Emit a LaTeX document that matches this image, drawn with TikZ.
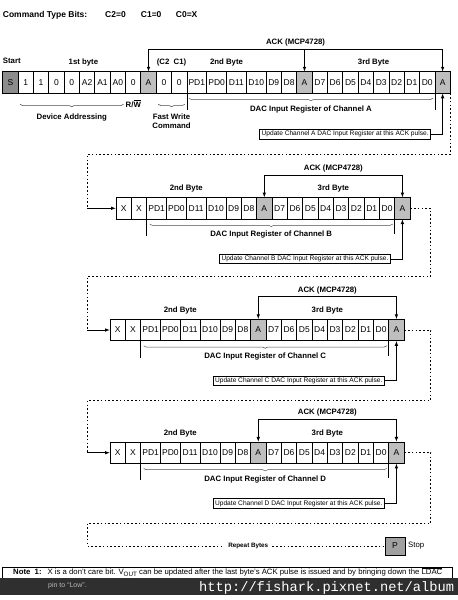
\documentclass[tikz,border=0pt]{standalone}
\usepackage{fontspec}
\setmainfont{Liberation Sans}
\newfontfamily\urlfont{Liberation Mono}
\usetikzlibrary{positioning,arrows.meta,decorations.pathreplacing}

\definecolor{ackgray}{HTML}{BEBEBE}
\definecolor{startgray}{HTML}{8C8C8C}
\definecolor{stopgray}{HTML}{A0A0A0}
\definecolor{bandgray}{HTML}{2F2F2F}

\newcommand{\ptsize}[1]{\fontsize{#1}{#1}\selectfont}

% one row of bit cells, set from left to right
\newcommand{\bitrow}[3]{%
  \foreach \sty/\txt [count=\cell] in {#3} {%
    \ifnum\cell=1
      \node[\sty, anchor=west] (#1-\cell) at (#2) {\txt};
    \else
      \pgfmathtruncatemacro{\prevcell}{\cell-1}
      \node[\sty, right=0pt of #1-\prevcell] (#1-\cell) {\txt};
    \fi
  }%
}

\tikzset{
  bit/.style={draw, line width=0.8pt, minimum width=15.35pt, minimum height=21.5pt, inner sep=0pt, outer sep=0pt, font=\ptsize{8.5}},
  wbit/.style={bit, minimum width=19.8pt},
  ackbit/.style={bit, fill=ackgray},
  startbit/.style={bit, fill=startgray},
  stopbit/.style={bit, fill=stopgray, minimum width=20pt, minimum height=18pt},
  head/.style={font=\bfseries\ptsize{8.5}, inner sep=0pt},
  lbl/.style={font=\bfseries\ptsize{7.8}, inner sep=1pt},
  ackline/.style={line width=0.9pt},
  tick/.style={line width=0.8pt},
  brace/.style={decorate, decoration={brace, amplitude=2.5pt}, line width=0.5pt, draw=black!70},
  update/.style={draw, line width=0.7pt, font=\ptsize{6.6}, inner xsep=2pt, inner ysep=0pt, outer sep=0pt, minimum height=9.5pt},
  loopline/.style={line width=0.9pt, dash pattern=on 1.6pt off 2.2pt},
  notebox/.style={line width=0.6pt}
}

\begin{document}
\begin{tikzpicture}[x=1pt, y=-1pt, >={Latex[length=5pt,width=3.6pt]}]
  % page and its size
  \fill[white] (0,0) rectangle (458,600);
  \useasboundingbox (0,0) rectangle (458,600);

  % heading
  \node[head, anchor=west] (cmd) at (2.7,15) {Command Type Bits:};
  \node[head, anchor=west] (c2) at (105,15) {C2=0};
  \node[head, anchor=west] (c1) at (140.7,15) {C1=0};
  \node[head, anchor=west] (c0) at (175.7,15) {C0=X};

  % first row: address byte, command bits, channel A
  \bitrow{a}{2.7,82.5}{startbit/S, bit/1, bit/1, bit/0, bit/0, bit/A2, bit/A1, bit/A0, bit/0, ackbit/A,
    bit/0, bit/0, wbit/PD1, wbit/PD0, wbit/D11, wbit/D10, bit/D9, bit/D8, ackbit/A,
    bit/D7, bit/D6, bit/D5, bit/D4, bit/D3, bit/D2, bit/D1, bit/D0, ackbit/A}

  \node[lbl, anchor=west] (start) at (1.7,61) {Start};
  \node[lbl, above=4pt of a-5.north east, xshift=4pt] (byte1) {1st byte};
  \node[lbl, above=4pt of a-11.north east] (cbits) {(C2\ \ C1)};
  \node[lbl, above=4pt of a-14.north east] (a-byte2) {2nd Byte};
  \node[lbl, above=4pt of a-23.north east] (a-byte3) {3rd Byte};

  % ACK pulses of the first row
  \draw[ackline, <->] (a-10.north) -- ++(0,-22.5) coordinate (a-ack)
    -| node[lbl, pos=0.25, above=1.5pt] {ACK (MCP4728)} (a-28.north);
  \draw[ackline, ->] (a-ack -| a-19.north) -- (a-19.north);

  % device addressing and fast write command
  \draw[brace] ([shift={(-2pt,-11pt)}]a-8.south east) -- node[lbl, below=8pt] (devaddr) {Device Addressing} ([shift={(2pt,-11pt)}]a-2.south west);
  \node[lbl, anchor=west] (rw) at ([shift={(-1pt,-10.5pt)}]a-9.south west) {R/$\overline{\mbox{W}}$};
  \draw[brace] ([shift={(-2pt,-11pt)}]a-12.south east) -- node[lbl, below=8pt, align=center, font=\bfseries\fontsize{7.8}{9}\selectfont] (fastwrite) {Fast Write\\Command} ([shift={(2pt,-11pt)}]a-11.south west);

  % channel A register
  \draw[tick] (a-13.south west) -- ++(0,17);
  \draw[tick] (a-27.south east) -- ++(0,17);
  \draw[brace] ([shift={(-2pt,-5pt)}]a-27.south east) -- node[lbl, below=6pt] (a-reg) {DAC Input Register of Channel A} ([shift={(2pt,-5pt)}]a-13.south west);
  \node[update, anchor=east] (a-upd) at ([shift={(-12pt,-41pt)}]a-28.south) {Update Channel A DAC Input Register at this ACK pulse.};
  \draw[ackline, ->] (a-upd.east) -| (a-28.south);

  % repeated rows for channels B, C and D
  \foreach \row/\ch/\rx/\ry in {b/B/116/208.3, c/C/110/330, d/D/110/452.7} {
    \bitrow{\row}{\rx,\ry}{bit/X, bit/X, wbit/PD1, wbit/PD0, wbit/D11, wbit/D10, bit/D9, bit/D8, ackbit/A,
      bit/D7, bit/D6, bit/D5, bit/D4, bit/D3, bit/D2, bit/D1, bit/D0, ackbit/A}
    \node[lbl, above=4pt of \row-4.north east] (\row-byte2) {2nd Byte};
    \node[lbl, above=4pt of \row-13.north east] (\row-byte3) {3rd Byte};
    \draw[ackline, <->] (\row-9.north) -- ++(0,-22.5)
      -| node[lbl, pos=0.25, above=1.5pt] {ACK (MCP4728)} (\row-18.north);
    \draw[tick] (\row-3.south west) -- ++(0,17);
    \draw[tick] (\row-17.south east) -- ++(0,15);
    \draw[brace] ([shift={(-2pt,-5pt)}]\row-17.south east) -- node[lbl, below=6pt] (\row-reg) {DAC Input Register of Channel \ch} ([shift={(3pt,-5pt)}]\row-3.south west);
    \node[update, anchor=east] (\row-upd) at ([shift={(-12pt,-40pt)}]\row-18.south) {Update Channel \ch\ DAC Input Register at this ACK pulse.};
    \draw[ackline, ->] (\row-upd.east) -| (\row-18.south);
  }

  % dotted returns from one row to the next
  \coordinate (loop-ab) at (87.3,154.3);
  \coordinate (loop-bc) at (87.3,276.3);
  \coordinate (turn-bc) at (430.7,276.3);
  \coordinate (loop-cd) at (87.3,400.7);
  \coordinate (turn-cd) at (430.7,400.7);
  \coordinate (loop-dp) at (87.3,523.3);
  \coordinate (turn-dp) at (430.7,523.3);

  \draw[loopline] (a-28.south east) |- (loop-ab) -- (loop-ab |- b-1.west);
  \draw[ackline, ->] (loop-ab |- b-1.west) -- (b-1.west);
  \draw[loopline] (b-18.east) -| (turn-bc) -- (loop-bc) -- (loop-bc |- c-1.west);
  \draw[ackline, ->] (loop-bc |- c-1.west) -- (c-1.west);
  \draw[loopline] (c-18.east) -| (turn-cd) -- (loop-cd) -- (loop-cd |- d-1.west);
  \draw[ackline, ->] (loop-cd |- d-1.west) -- (d-1.west);

  % repeat or stop
  \node[lbl, font=\bfseries\ptsize{6.3}, inner xsep=4pt] (repeat) at (248.3,546) {Repeat Bytes};
  \node[stopbit] (stop) at (395,546) {P};
  \node[font=\ptsize{7.8}, inner sep=1pt, right=2pt of stop] (stoptxt) {Stop};
  \draw[loopline] (d-18.east) -| (turn-dp) -- (loop-dp) |- (repeat.west);
  \draw[loopline] (repeat.east) -- (stop.west);

  % note at the foot
  \draw[notebox] (2.7,578) -- (2.7,567.3) -- (452,567.3) -- (452,578);
  \fill[bandgray] (0,577.7) rectangle (458,595);
  \node[anchor=west, inner sep=0pt, font=\ptsize{7.75}] (note) at (13,572)
    {\textbf{Note\ \ 1:}\hspace{6pt}X is a don't care bit. V\raisebox{-1.2pt}{\ptsize{6.3}OUT} can be updated after the last byte's ACK pulse is issued and by bringing down the $\overline{\mbox{LDAC}}$};
  \node[anchor=west, inner sep=0pt, font=\ptsize{7}, text=gray!55] (pinlow) at (48,586) {pin to ``Low''.};
  \node[anchor=west, inner sep=0pt, font=\urlfont\ptsize{13.7}, text=white] (url) at (199,587.7) {http://fishark.pixnet.net/album};
\end{tikzpicture}
\end{document}
